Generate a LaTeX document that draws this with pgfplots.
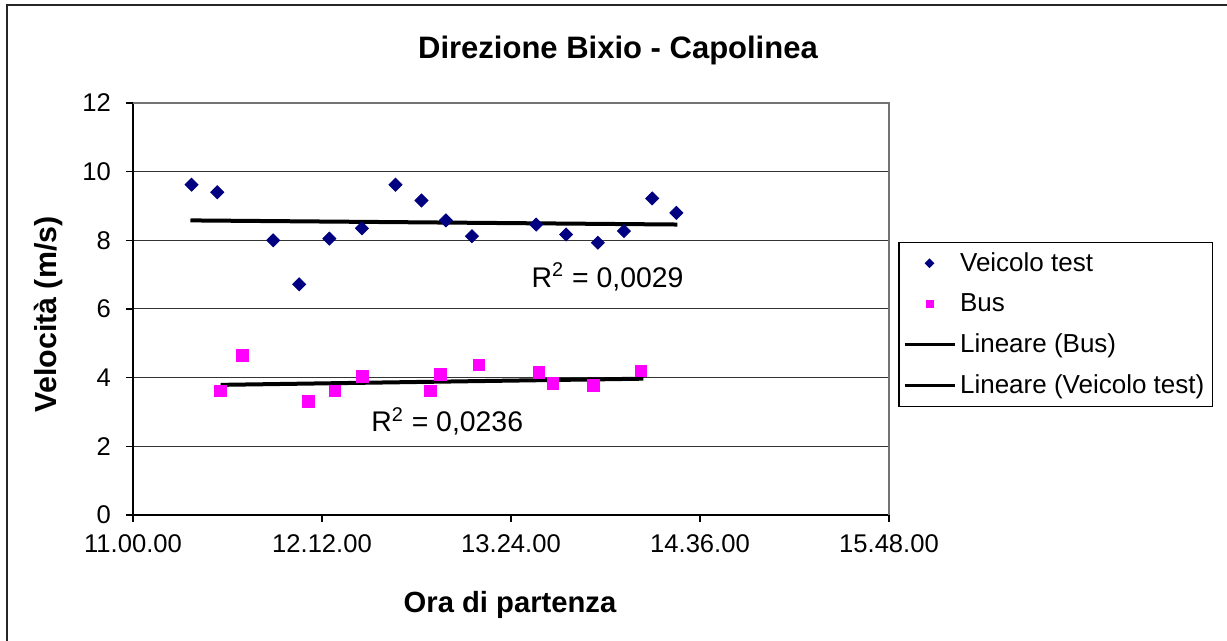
\documentclass[border=0pt]{standalone}
\usepackage{fontspec}
\setmainfont{Liberation Sans}
\usepackage{pgfplots}
\pgfplotsset{compat=1.18}
\definecolor{navyblue}{HTML}{000080}
\definecolor{magentab}{HTML}{FF00FF}
\begin{document}
\begin{tikzpicture}
\path[use as bounding box] (0,0) rectangle (613.5pt,320.5pt);
\draw[line width=1pt, black!85] (3.5pt,0) -- (3.5pt,318pt) -- (613.5pt,318pt);
\begin{axis}[
  at={(66.5pt,63pt)}, anchor=south west,
  scale only axis, width=378pt, height=206pt,
  xmin=0, xmax=288, ymin=0, ymax=12,
  xtick={0,72,144,216,288},
  xticklabels={11.00.00,12.12.00,13.24.00,14.36.00,15.48.00},
  ytick={0,2,4,6,8,10,12},
  axis lines*=left, axis line style={-, black, line width=0.6pt},
  tick align=outside, tick style={black, line width=0.6pt},
  major tick length=3.5pt,
  ymajorgrids, grid style={black!80, line width=0.5pt},
  /pgf/number format/assume math mode=true,
  tick label style={font=\fontsize{12.8}{15}\selectfont},
  yticklabel style={xshift=-4pt},
  xticklabel style={yshift=-3pt},
  title={Direzione Bixio - Capolinea},
  title style={font=\fontsize{15.5}{18}\selectfont\bfseries, at={(0.6415,1.0995)}, anchor=center},
  xlabel={Ora di partenza},
  xlabel style={font=\fontsize{14.6}{17}\selectfont\bfseries, at={(0.4987,-0.218)}, anchor=center},
  ylabel={Velocità (m/s)},
  ylabel style={font=\fontsize{15.2}{17}\selectfont\bfseries, at={(-0.1124,0.487)}, anchor=center, rotate=0},
  legend style={at={(1.0123,0.6633)}, anchor=north west, draw=black, line width=0.6pt,
    font=\fontsize{13}{15}\selectfont, row sep=5.6pt, inner xsep=2pt, inner ysep=3pt,
    cells={anchor=west}},
  legend cell align=left,
  clip=false,
]
\addplot[black, line width=2pt, forget plot] coordinates {(21.9,8.58) (207.4,8.46)};
\addplot[black, line width=2pt, forget plot] coordinates {(33.4,3.79) (194.4,3.97)};
\addplot[only marks, mark=square*, mark size=2.3pt, color=navyblue, mark options={rotate=45, fill=navyblue, draw=navyblue},
  legend image code/.code={\path[draw=none,fill=none] (0pt,0pt) -- (25pt,0pt); \path[draw=none,fill=navyblue] (12.5pt,2.4pt) -- (14.9pt,0pt) -- (12.5pt,-2.4pt) -- (10.1pt,0pt) -- cycle;}]
 coordinates {(22.3,9.62) (32.1,9.40) (53.4,8.00) (63.3,6.72) (74.8,8.05) (87.2,8.35) (100.0,9.62) (109.9,9.16) (119.2,8.58) (129.1,8.12) (153.6,8.46) (165.0,8.17) (177.1,7.93) (187.0,8.27) (197.8,9.22) (207.0,8.80)};
\addlegendentry{Veicolo test}
\addplot[only marks, mark=square*, mark size=2.9pt, color=magentab, mark options={fill=magentab, draw=magentab},
  legend image code/.code={\path[draw=none,fill=none] (0pt,0pt) -- (25pt,0pt); \path[draw=none,fill=magentab] (10.5pt,-2pt) rectangle (14.5pt,2pt);}]
 coordinates {(33.4,3.61) (41.7,4.65) (66.9,3.31) (76.9,3.61) (87.5,4.03) (113.3,3.61) (117.2,4.10) (131.7,4.37) (154.7,4.15) (159.9,3.84) (175.3,3.77) (193.5,4.20)};
\addlegendentry{Bus}
\addlegendimage{legend image code/.code={\draw[black, line width=1.6pt] (0pt,0pt) -- (25pt,0pt);}}
\addlegendentry{Lineare (Bus)}
\addlegendimage{legend image code/.code={\draw[black, line width=1.6pt] (0pt,0pt) -- (25pt,0pt);}}
\addlegendentry{Lineare (Veicolo test)}
\draw[black!55, line width=0.6pt] (rel axis cs:0,1) -- (rel axis cs:1,1) -- (rel axis cs:1,0);
\node[font=\fontsize{14.2}{16}\selectfont] at (axis cs:180.8,6.93) {R\textsuperscript{2} = 0,0029};
\node[font=\fontsize{14.2}{16}\selectfont] at (axis cs:119.7,2.72) {R\textsuperscript{2} = 0,0236};
\end{axis}
\end{tikzpicture}
\end{document}
